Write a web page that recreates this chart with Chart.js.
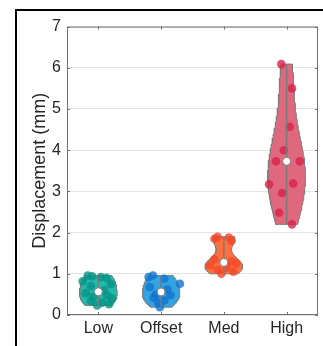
<!DOCTYPE html>
<html>
<head>
<meta charset="utf-8">
<script src="https://cdn.jsdelivr.net/npm/chart.js@4.4.1/dist/chart.umd.min.js"></script>
<style>
    html, body { margin: 0; padding: 0; background: #fff; }
    #frame {
        position: absolute; left: 15px; top: 9px;
        width: 306px; height: 335px;
        border-left: 2px solid #000; border-top: 2px solid #000;
    }
    #wrap { position: relative; width: 306px; height: 335px; }
</style>
</head>
<body>
<div id="frame"><div id="wrap"><canvas id="violin-chart"></canvas></div></div>
<script>
const categories = ["Low", "Offset", "Med", "High"];
const lowValues = [0.96, 0.94, 0.92, 0.90, 0.82, 0.75, 0.70, 0.60, 0.53, 0.48, 0.44, 0.40, 0.34, 0.30, 0.26, 0.23];
const offsetValues = [0.96, 0.92, 0.88, 0.76, 0.68, 0.62, 0.50, 0.48, 0.42, 0.35, 0.30, 0.19];
const medValues = [1.90, 1.88, 1.85, 1.80, 1.35, 1.30, 1.25, 1.20, 1.15, 1.10, 1.05, 1.00];
const highValues = [6.09, 5.50, 4.57, 4.00, 3.73, 3.73, 3.17, 3.19, 2.96, 2.48, 2.20];
// horizontal jitter of each dot (category units), same order as values
const lowJitter = [-0.17, -0.10, 0.04, 0.13, -0.25, 0.20, -0.12, 0.09, -0.20, 0.14, -0.08, 0.22, -0.12, 0.06, 0.17, -0.02];
const offsetJitter = [-0.13, -0.20, 0.05, 0.30, -0.18, 0.10, -0.08, 0.15, -0.12, 0.05, -0.05, -0.02];
const medJitter = [-0.10, 0.08, -0.15, 0.12, -0.15, 0.12, 0.20, -0.22, 0.05, -0.10, 0.15, -0.04];
const highJitter = [-0.085, 0.085, 0.05, -0.045, -0.17, 0.21, -0.28, 0.105, -0.07, -0.12, 0.085];
const yTicks = [0, 1, 2, 3, 4, 5, 6, 7];

const groups = [lowValues, offsetValues, medValues, highValues];
const jitters = [lowJitter, offsetJitter, medJitter, highJitter];
const violinColors = ["rgb(34,186,171)", "rgb(52,163,224)", "rgb(255,112,62)", "rgb(224,104,124)"];
const dotColors = ["rgba(8,148,134,0.8)", "rgba(16,116,206,0.8)", "rgba(240,74,44,0.8)", "rgba(212,36,74,0.8)"];
const edgeGrey = "#7b7b7b";
const VIOLIN_WIDTH = 0.3;

function median(sorted) {
    const n = sorted.length;
    return n % 2 ? sorted[(n - 1) / 2] : (sorted[n / 2 - 1] + sorted[n / 2]) / 2;
}

function quantile(sorted, p) {
    const n = sorted.length;
    const pos = p * n + 0.5;
    if (pos <= 1) return sorted[0];
    if (pos >= n) return sorted[n - 1];
    const i = Math.floor(pos);
    return sorted[i - 1] + (pos - i) * (sorted[i] - sorted[i - 1]);
}

// gaussian kde, bounded to the data range like the matlab violinplot
function violinOutline(vals, center) {
    const sorted = [...vals].sort((a, b) => a - b);
    const n = sorted.length;
    const med = median(sorted);
    const mad = median(sorted.map(v => Math.abs(v - med)).sort((a, b) => a - b));
    const bw = (mad / 0.6745) * Math.pow(4 / (3 * n), 0.2);
    const lo = sorted[0], hi = sorted[n - 1];
    const steps = 80;
    const ys = [], ds = [];
    for (let k = 0; k <= steps; k++) {
        const y = lo + (hi - lo) * k / steps;
        let d = 0;
        vals.forEach(v => { const u = (y - v) / bw; d += Math.exp(-0.5 * u * u); });
        ys.push(y);
        ds.push(d);
    }
    const dmax = Math.max(...ds);
    const right = ys.map((y, k) => ({ x: center + VIOLIN_WIDTH * ds[k] / dmax, y: y }));
    const left = ys.map((y, k) => ({ x: center - VIOLIN_WIDTH * ds[k] / dmax, y: y })).reverse();
    return [{ x: center, y: lo }, ...right, { x: center, y: hi }, ...left, { x: center, y: lo }];
}

function whiskers(vals) {
    const sorted = [...vals].sort((a, b) => a - b);
    const q1 = quantile(sorted, 0.25), q3 = quantile(sorted, 0.75);
    const iqr = q3 - q1;
    const lo = Math.min(...sorted.filter(v => v >= q1 - 1.5 * iqr));
    const hi = Math.max(...sorted.filter(v => v <= q3 + 1.5 * iqr));
    return [lo, hi];
}

const datasets = [];
groups.forEach((vals, i) => {
    const center = i + 1;
    const sorted = [...vals].sort((a, b) => a - b);
    const w = whiskers(vals);
    datasets.push({
        type: "line",
        label: categories[i] + " violin",
        data: violinOutline(vals, center),
        borderColor: edgeGrey,
        borderWidth: 1,
        backgroundColor: violinColors[i],
        fill: "shape",
        pointRadius: 0,
        tension: 0,
        order: 4,
    });
    datasets.push({
        type: "scatter",
        label: categories[i] + " data",
        data: vals.map((v, k) => ({ x: center + jitters[i][k], y: v })),
        pointRadius: 4.3,
        pointBackgroundColor: dotColors[i],
        pointBorderWidth: 0,
        order: 3,
    });
    datasets.push({
        type: "line",
        label: categories[i] + " whisker",
        data: [{ x: center, y: w[0] }, { x: center, y: w[1] }],
        borderColor: edgeGrey,
        borderWidth: 1.5,
        pointRadius: 0,
        fill: false,
        order: 2,
    });
    datasets.push({
        type: "scatter",
        label: categories[i] + " median",
        data: [{ x: center, y: median(sorted) }],
        pointRadius: 4,
        pointBackgroundColor: "#ffffff",
        pointBorderColor: edgeGrey,
        pointBorderWidth: 1,
        order: 1,
    });
});

// matlab style box with inward tick marks
const axesBox = {
    id: "axesBox",
    afterDraw(chart) {
        const { ctx, chartArea: a, scales: { x, y } } = chart;
        ctx.save();
        ctx.strokeStyle = "#707070";
        ctx.lineWidth = 1;
        ctx.strokeRect(a.left + 0.5, a.top + 0.5, a.width - 1, a.height - 1);
        ctx.beginPath();
        x.ticks.forEach(t => {
            const px = Math.round(x.getPixelForValue(t.value)) + 0.5;
            ctx.moveTo(px, a.bottom); ctx.lineTo(px, a.bottom - 3);
            ctx.moveTo(px, a.top); ctx.lineTo(px, a.top + 3);
        });
        y.ticks.forEach(t => {
            const py = Math.round(y.getPixelForValue(t.value)) + 0.5;
            ctx.moveTo(a.left, py); ctx.lineTo(a.left + 3, py);
            ctx.moveTo(a.right, py); ctx.lineTo(a.right - 3, py);
        });
        ctx.stroke();
        ctx.restore();
    },
};

const fontFamily = "'Liberation Sans', Arial, Helvetica, sans-serif";

new Chart(document.getElementById("violin-chart"), {
    type: "scatter",
    data: { datasets: datasets },
    options: {
        responsive: true,
        maintainAspectRatio: false,
        animation: false,
        layout: { padding: { top: 15, right: 5, left: 0, bottom: 0 } },
        plugins: {
            legend: { display: false },
            tooltip: { enabled: false },
        },
        scales: {
            x: {
                type: "linear",
                min: 0.5,
                max: 4.5,
                afterBuildTicks: scale => { scale.ticks = categories.map((c, i) => ({ value: i + 1 })); },
                afterFit: scale => { scale.height = 31; },
                grid: { display: false, drawTicks: false },
                border: { display: false },
                ticks: {
                    callback: value => categories[value - 1],
                    color: "#262626",
                    padding: 4,
                    maxRotation: 0,
                    font: { family: fontFamily, size: 16 },
                },
            },
            y: {
                type: "linear",
                min: yTicks[0],
                max: yTicks[yTicks.length - 1],
                afterBuildTicks: scale => { scale.ticks = yTicks.map(v => ({ value: v })); },
                afterFit: scale => { scale.width = 50; },
                grid: { color: "#e4e4e4", drawTicks: false },
                border: { display: false },
                ticks: {
                    color: "#262626",
                    padding: 6,
                    font: { family: fontFamily, size: 16 },
                },
                title: {
                    display: true,
                    text: "Displacement (mm)",
                    color: "#262626",
                    padding: { top: 12, bottom: 0 },
                    font: { family: fontFamily, size: 18 },
                },
            },
        },
    },
    plugins: [axesBox],
});
</script>
</body>
</html>
